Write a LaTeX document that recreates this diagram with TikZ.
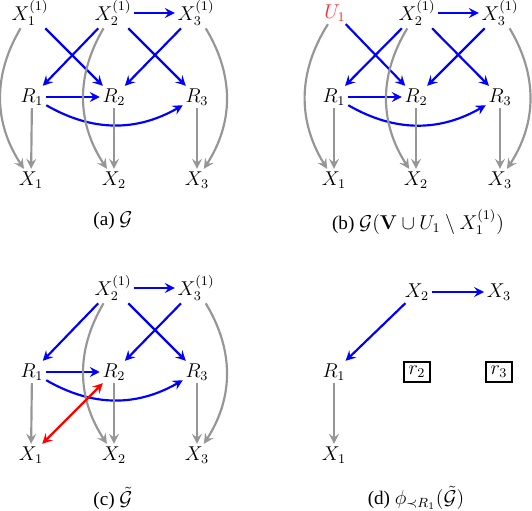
\documentclass[tikz,border=0pt]{standalone}
\usepackage[no-math]{fontspec}
\setmainfont{Liberation Serif}
\usepackage{amsmath,amssymb}
\usetikzlibrary{arrows.meta}
\definecolor{edgegray}{RGB}{150,150,150}
\definecolor{ured}{RGB}{255,40,40}
\begin{document}
\begin{tikzpicture}[x=0.6pt,y=-0.6pt,
  v/.style={inner sep=1.5pt, font=\fontsize{11.5}{14}\selectfont},
  rbox/.style={draw, line width=1.1pt, inner sep=2.6pt, font=\fontsize{11.5}{14}\selectfont},
  captxt/.style={inner sep=0pt, font=\fontsize{11.5}{14}\selectfont},
  tip/.style={-{Stealth[length=6pt,width=6pt,inset=2.2pt]}},
  be/.style={tip, draw=blue, line width=1.3pt},
  ge/.style={tip, draw=edgegray, line width=1.3pt},
  re/.style={{Stealth[length=6pt,width=6pt,inset=2.2pt]}-{Stealth[length=6pt,width=6pt,inset=2.2pt]}, draw=red, line width=1.3pt}]
\useasboundingbox (0,0) rectangle (532,510);

% ---------- panel (a)
\node[v] (a11) at (30,13) {$X_1^{(1)}$};
\node[v] (a21) at (113,13) {$X_2^{(1)}$};
\node[v] (a31) at (196,13) {$X_3^{(1)}$};
\node[v] (aR1) at (32,97) {$R_1$};
\node[v] (aR2) at (114,97) {$R_2$};
\node[v] (aR3) at (197,97) {$R_3$};
\node[v] (aX1) at (31,180) {$X_1$};
\node[v] (aX2) at (114,180) {$X_2$};
\node[v] (aX3) at (197,180) {$X_3$};
\node[captxt] (acap) at (113,221) {(a) $\mathcal{G}$};
\draw[be] (a11) -- (aR2);
\draw[be] (a21) -- (aR1);
\draw[be] (a21) -- (a31);
\draw[be] (a21) -- (aR3);
\draw[be] (a31) -- (aR2);
\draw[be] (aR1) -- (aR2);
\draw[be] (aR1) to[bend right=30] (aR3);
\draw[ge] (aR1) -- (aX1);
\draw[ge] (aR2) -- (aX2);
\draw[ge] (aR3) -- (aX3);
\draw[ge] (a11) to[bend right=32] (aX1);
\draw[ge] (a21) to[bend right=32] (aX2);
\draw[ge] (a31) to[bend left=32] (aX3);

% ---------- panel (b)
\node[v, text=ured] (bU1) at (335,13) {$U_1$};
\node[v] (b21) at (417,13) {$X_2^{(1)}$};
\node[v] (b31) at (500,13) {$X_3^{(1)}$};
\node[v] (bR1) at (334,97) {$R_1$};
\node[v] (bR2) at (416,97) {$R_2$};
\node[v] (bR3) at (500,97) {$R_3$};
\node[v] (bX1) at (334,180) {$X_1$};
\node[v] (bX2) at (416,180) {$X_2$};
\node[v] (bX3) at (500,180) {$X_3$};
\node[captxt] (bcap) at (418,222) {(b) $\mathcal{G}(\mathbf{V}\cup U_1 \setminus X_1^{(1)})$};
\draw[be] (bU1) -- (bR2);
\draw[be] (b21) -- (bR1);
\draw[be] (b21) -- (b31);
\draw[be] (b21) -- (bR3);
\draw[be] (b31) -- (bR2);
\draw[be] (bR1) -- (bR2);
\draw[be] (bR1) to[bend right=30] (bR3);
\draw[ge] (bR1) -- (bX1);
\draw[ge] (bR2) -- (bX2);
\draw[ge] (bR3) -- (bX3);
\draw[ge] (bU1) to[bend right=32] (bX1);
\draw[ge] (b21) to[bend right=32] (bX2);
\draw[ge] (b31) to[bend left=32] (bX3);

% ---------- panel (c)
\node[v] (c21) at (113,288) {$X_2^{(1)}$};
\node[v] (c31) at (196,288) {$X_3^{(1)}$};
\node[v] (cR1) at (32,372) {$R_1$};
\node[v] (cR2) at (114,372) {$R_2$};
\node[v] (cR3) at (197,372) {$R_3$};
\node[v] (cX1) at (31,455) {$X_1$};
\node[v] (cX2) at (114,455) {$X_2$};
\node[v] (cX3) at (197,455) {$X_3$};
\node[captxt] (ccap) at (113,498) {(c) $\tilde{\mathcal{G}}$};
\draw[be] (c21) -- (cR1);
\draw[be] (c21) -- (c31);
\draw[be] (c21) -- (cR3);
\draw[be] (c31) -- (cR2);
\draw[be] (cR1) -- (cR2);
\draw[be] (cR1) to[bend right=30] (cR3);
\draw[ge] (cR1) -- (cX1);
\draw[ge] (cR2) -- (cX2);
\draw[ge] (cR3) -- (cX3);
\draw[ge] (c21) to[bend right=32] (cX2);
\draw[ge] (c31) to[bend left=32] (cX3);
\draw[re] (cX1) -- (cR2);

% ---------- panel (d)
\node[v] (dX2) at (417,292) {$X_2$};
\node[v] (dX3) at (499,292) {$X_3$};
\node[v] (dR1) at (334,372) {$R_1$};
\node[rbox] (dr2) at (417,372) {$r_2$};
\node[rbox] (dr3) at (499,372) {$r_3$};
\node[v] (dX1) at (334,455) {$X_1$};
\node[captxt] (dcap) at (416,498) {(d) $\phi_{\prec R_1}(\tilde{\mathcal{G}})$};
\draw[be] (dX2) -- (dX3);
\draw[be] (dX2) -- (dR1);
\draw[ge] (dR1) -- (dX1);
\end{tikzpicture}
\end{document}
